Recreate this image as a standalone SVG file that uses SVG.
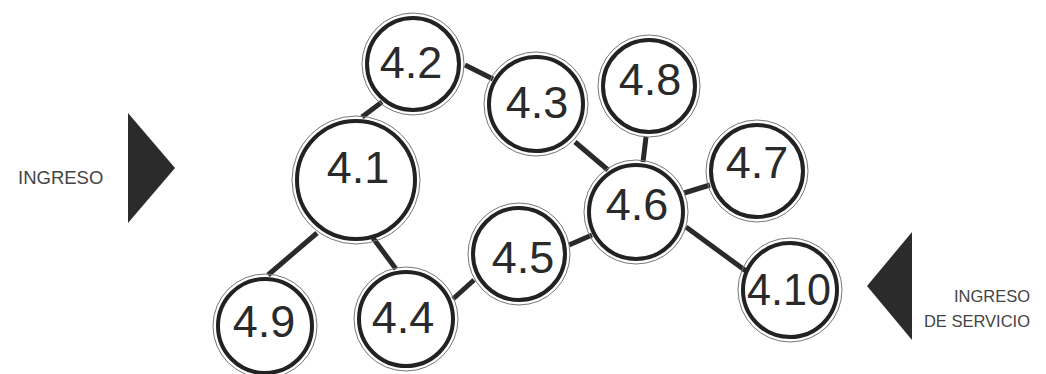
<svg xmlns="http://www.w3.org/2000/svg" width="1046" height="374" viewBox="0 0 1046 374">
<style>
.outer{fill:none;stroke:#777;stroke-width:1}
.inner{fill:#fff;stroke:#222;stroke-width:4}
.lbl{font-family:"Liberation Sans",Arial,sans-serif;font-size:45px;fill:#2a2a2a;text-anchor:middle}
.side{font-family:"Liberation Sans",Arial,sans-serif;fill:#444}
.conn line{stroke:#2a2a2a;stroke-width:5;stroke-linecap:butt}
.tri{fill:#2b2b2b}
</style>
<rect width="1046" height="374" fill="#fff"/>
<g id="connectors" class="conn">
<line x1="362" y1="117" x2="382" y2="102"/>
<line x1="465" y1="65" x2="493" y2="79"/>
<line x1="575" y1="142" x2="608" y2="170"/>
<line x1="646" y1="137" x2="643" y2="162"/>
<line x1="684" y1="193" x2="710" y2="185"/>
<line x1="569" y1="245" x2="592" y2="235"/>
<line x1="686" y1="227" x2="750" y2="274"/>
<line x1="317" y1="233" x2="268" y2="275"/>
<line x1="373" y1="238" x2="396" y2="269"/>
<line x1="453" y1="299" x2="474" y2="280"/>
</g>
<g id="n4_1"><circle class="outer" cx="356" cy="180" r="64"/><circle class="inner" cx="356" cy="180" r="59"/><text class="lbl" x="358" y="183">4.1</text></g>
<g id="n4_2"><circle class="outer" cx="413" cy="64" r="51"/><circle class="inner" cx="413" cy="64" r="46"/><text class="lbl" x="411" y="78">4.2</text></g>
<g id="n4_3"><circle class="outer" cx="536" cy="104" r="52"/><circle class="inner" cx="536" cy="104" r="47"/><text class="lbl" x="537" y="118">4.3</text></g>
<g id="n4_8"><circle class="outer" cx="649" cy="86" r="51"/><circle class="inner" cx="649" cy="86" r="46"/><text class="lbl" x="650" y="95">4.8</text></g>
<g id="n4_6"><circle class="outer" cx="636" cy="212" r="52"/><circle class="inner" cx="636" cy="212" r="47"/><text class="lbl" x="637" y="220">4.6</text></g>
<g id="n4_7"><circle class="outer" cx="757" cy="171" r="51"/><circle class="inner" cx="757" cy="171" r="46"/><text class="lbl" x="757" y="178">4.7</text></g>
<g id="n4_5"><circle class="outer" cx="519" cy="254" r="51"/><circle class="inner" cx="519" cy="254" r="46"/><text class="lbl" x="523" y="273">4.5</text></g>
<g id="n4_4"><circle class="outer" cx="406" cy="319" r="52"/><circle class="inner" cx="406" cy="319" r="47"/><text class="lbl" x="403" y="333">4.4</text></g>
<g id="n4_9"><circle class="outer" cx="265" cy="326" r="52"/><circle class="inner" cx="265" cy="326" r="47"/><text class="lbl" x="264" y="337">4.9</text></g>
<g id="n4_10"><circle class="outer" cx="790" cy="290" r="52"/><circle class="inner" cx="790" cy="290" r="47"/><text class="lbl" x="789" y="305" textLength="84" lengthAdjust="spacingAndGlyphs">4.10</text></g>
<g id="ingreso">
<polygon class="tri" points="128,113 175,168 128,223"/>
<text class="side" x="18" y="184" font-size="18.5">INGRESO</text>
</g>
<g id="ingreso_servicio">
<polygon class="tri" points="912,232 867,286 912,340"/>
<text class="side" x="1030" y="302" font-size="16.5" text-anchor="end">INGRESO</text>
<text class="side" x="1030" y="327" font-size="16.5" text-anchor="end">DE SERVICIO</text>
</g>
</svg>
